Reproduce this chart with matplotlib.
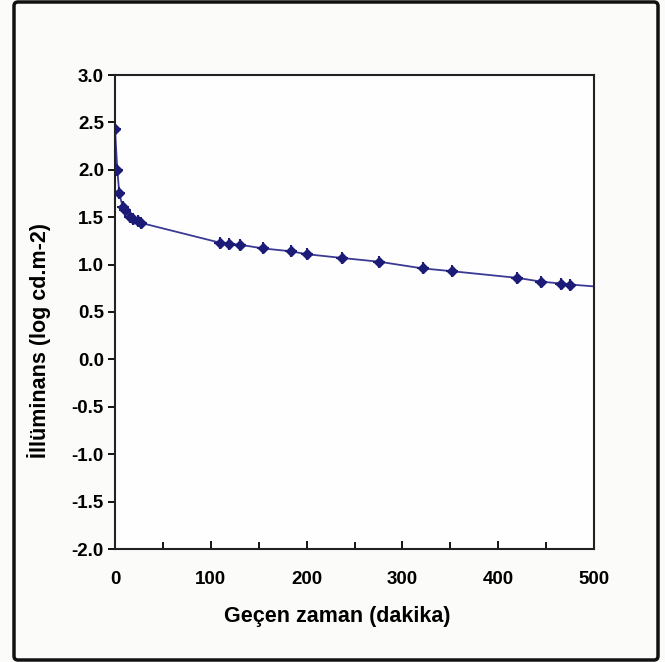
import numpy as np
import matplotlib
matplotlib.use("Agg")
import matplotlib.pyplot as plt
from matplotlib.patches import FancyBboxPatch

# DATA
zaman = [0, 2.4, 4.5, 8, 10.8, 15.7, 19, 24, 27,
         110, 119, 130, 155, 184, 200, 237, 276, 321, 352, 420, 445, 466, 475]
luminans = [2.43, 2.0, 1.75, 1.61, 1.58, 1.50, 1.48, 1.46, 1.44,
            1.23, 1.22, 1.21, 1.17, 1.14, 1.11, 1.07, 1.03, 0.96, 0.93, 0.86, 0.82, 0.80, 0.79]
# line goes on to the axis edge past the last point
uzanti_x = [475, 500]
uzanti_y = [0.79, 0.77]

xticks = [0, 100, 200, 300, 400, 500]
yticks = [3.0, 2.5, 2.0, 1.5, 1.0, 0.5, 0.0, -0.5, -1.0, -1.5, -2.0]

plt.rcParams['font.family'] = ['Liberation Sans', 'DejaVu Sans']
plt.rcParams['font.weight'] = 'bold'

fig = plt.figure(figsize=(6.65, 6.62), dpi=100, facecolor="#fbfbf9")

# outer frame
cerceve = FancyBboxPatch((14/665, 2/662), (658-14)/665, (660-2)/662,
                         boxstyle="round,pad=0,rounding_size=0.006",
                         transform=fig.transFigure, fill=False,
                         edgecolor="#111111", linewidth=2.5)
fig.patches.append(cerceve)

ax = fig.add_axes([115/665, (662-549)/662, (594-115)/665, (549-75)/662])
ax.set_facecolor("#fefefe")

lc = "#3a3a94"
mc = "#1c1c78"
ax.plot(zaman, luminans, color=lc, lw=1.3, zorder=2)
ax.plot(uzanti_x, uzanti_y, color=lc, lw=1.3, zorder=2)
ax.plot(zaman, luminans, ls="none", marker="D", ms=5, color=mc, zorder=3)
ax.plot(zaman, luminans, ls="none", marker="+", ms=8, mew=1.5, color=mc, zorder=3)

ax.set_xlim(0, 500)
ax.set_ylim(-2.0, 3.0)
ax.set_xticks(xticks)
ax.set_xticks(np.arange(50, 500, 100), minor=True)
ax.set_yticks(yticks)
ax.set_yticklabels([f"{v:.1f}" for v in yticks])

for s in ax.spines.values():
    s.set_linewidth(1.5)
    s.set_color("#222222")

ax.tick_params(axis="x", direction="in", length=6, width=1.3, pad=16, labelsize=13.5)
ax.tick_params(axis="x", which="minor", direction="in", length=5, width=1.3)
ax.tick_params(axis="y", direction="out", length=5, width=1.3, pad=3, labelsize=13.5)
for t in ax.get_xticklabels() + ax.get_yticklabels():
    t.set_fontweight("bold")

ax.set_xlabel("Geçen zaman (dakika)", fontsize=15.5, fontweight="bold")
ax.set_ylabel("İllüminans (log cd.m-2)", fontsize=15.5, fontweight="bold")
ax.xaxis.set_label_coords(0.465, -0.12)
ax.yaxis.set_label_coords(-0.133, 0.44)

fig.savefig("out.png", dpi=100, facecolor=fig.get_facecolor())
